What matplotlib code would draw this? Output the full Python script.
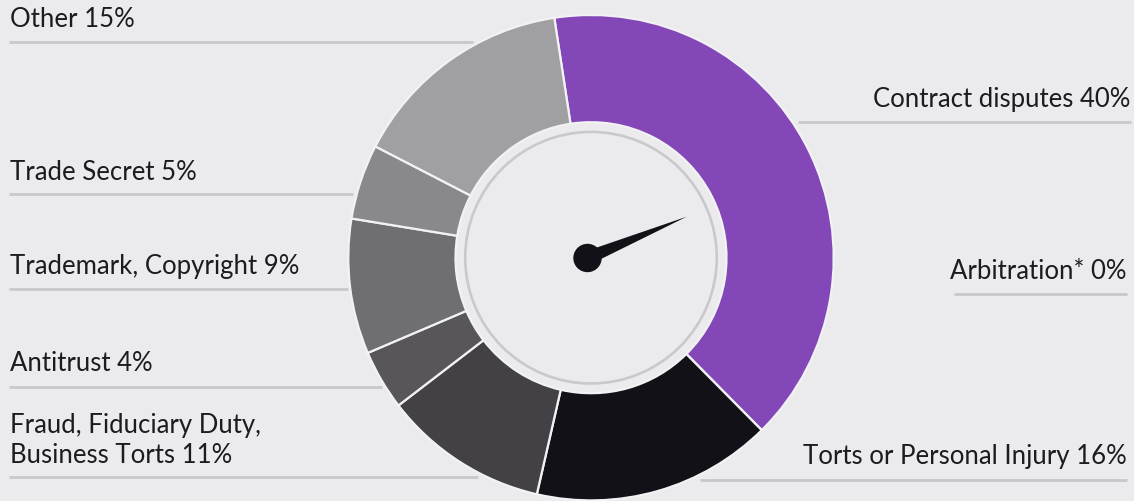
import matplotlib
matplotlib.use("Agg")
import matplotlib.pyplot as plt
from matplotlib.patches import Circle, Polygon
import numpy as np

# ---- data ----
categories = ["Contract disputes", "Arbitration*", "Torts or Personal Injury",
              "Fraud, Fiduciary Duty,\nBusiness Torts", "Antitrust",
              "Trademark, Copyright", "Trade Secret", "Other"]
shares = [40, 0, 16, 11, 4, 9, 5, 15]
colors = ["#8347b8", "#8347b8", "#131118", "#434146", "#58565b",
          "#6f6e73", "#89888c", "#a09fa2"]
label_texts = [f"{c} {v}%" for c, v in zip(categories, shares)]

W, H = 1134, 501
BG = "#ebebed"
TXT = "#1d1b21"
LINE = "#c8c8ca"

fig = plt.figure(figsize=(W / 100, H / 100), dpi=100, facecolor=BG)
ax = fig.add_axes([0, 0, 1, 1])
ax.set_facecolor(BG)

def Y(y):  # image-style y (from top) to axis y (from bottom)
    return H - y

cx, cy = 591.0, Y(257.7)
R_out, R_in = 242.7, 135.5

ax.pie(shares, colors=colors, startangle=98.7, counterclock=False,
       center=(cx, cy), radius=R_out,
       wedgeprops=dict(width=R_out - R_in, edgecolor="#f2f2f4", linewidth=1.6))

# inner gray ring
ax.add_patch(Circle((cx, cy), 125.8, fill=False, edgecolor="#c9c9cb", lw=1.9, zorder=3))

# needle
px, py = 587.5, Y(258.0)
tip = np.array([686.7, Y(216.7)])
d = tip - np.array([px, py])
d = d / np.hypot(*d)
n = np.array([-d[1], d[0]])
half = 6.5
base = np.array([px, py]) + d * 6
ax.add_patch(Polygon([base + n * half, tip, base - n * half], closed=True,
                     facecolor="#131118", edgecolor="none", zorder=5))
ax.add_patch(Circle((px, py), 14.2, facecolor="#131118", edgecolor="none", zorder=6))

# labels: (index, x, baseline y, ha, underline y, x0, x1)
layout = [
    (7, 9.5, 26.7, "left", 42.3, 9, 473),
    (6, 9.5, 180.0, "left", 194.3, 9, 353),
    (5, 9.5, 274.3, "left", 289.3, 9, 347.7),
    (4, 9.5, 370.7, "left", 387.0, 9, 381.7),
    (3, 9.5, 463.3, "left", 477.0, 9, 478),
    (0, 1130.0, 106.7, "right", 122.0, 798, 1130.7),
    (1, 1127.0, 279.0, "right", 294.3, 954, 1127.3),
    (2, 1127.0, 464.0, "right", 480.0, 700, 1127.3),
]
LINE_GAP = 30.0
for idx, x, yb, ha, yl, x0, x1 in layout:
    lines = label_texts[idx].split("\n")
    for k, line in enumerate(lines):
        ybk = yb - (len(lines) - 1 - k) * LINE_GAP
        ax.text(x, Y(ybk), line, ha=ha, va="baseline", fontsize=18.5,
                family=["Lato", "DejaVu Sans"], color=TXT, zorder=10)
    ax.plot([x0, x1], [Y(yl), Y(yl)], color=LINE, lw=2.0, solid_capstyle="butt", zorder=0)

ax.set_xlim(0, W)
ax.set_ylim(0, H)
ax.set_aspect("equal")
ax.axis("off")
fig.savefig("out.png", dpi=100, facecolor=BG)
